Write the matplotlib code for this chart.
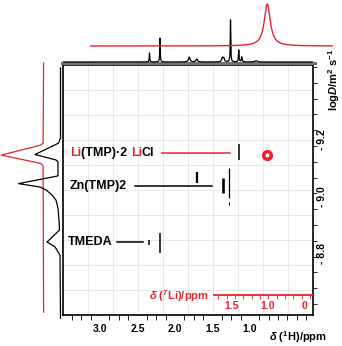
import numpy as np
import matplotlib
matplotlib.use("Agg")
import matplotlib.pyplot as plt
from matplotlib.ticker import FixedLocator

plt.rcParams['font.family'] = ['Liberation Sans', 'DejaVu Sans']
plt.rcParams['font.weight'] = 'bold'
plt.rcParams['mathtext.fontset'] = 'custom'
plt.rcParams['mathtext.rm'] = 'Liberation Sans:bold'
plt.rcParams['mathtext.it'] = 'Liberation Sans:italic:bold'
plt.rcParams['mathtext.bf'] = 'Liberation Sans:bold'

RED = '#e8232b'

# ---------------- data ----------------
# 1H projection (top): peak positions (ppm), heights, half widths
h1_ppm = [2.34, 2.20, 1.81, 1.71, 1.37, 1.35, 1.26, 1.15, 1.11, 0.92]
h1_height = [9, 24, 5, 3, 4, 4, 42, 12, 5, 1.2]
h1_hwhm = [0.004, 0.004, 0.012, 0.012, 0.010, 0.010, 0.004, 0.005, 0.006, 0.02]

# 7Li projection (top, red)
li_ppm = [1.01]
li_height = [42]
li_hwhm = [0.05]

# logD projections (left)
red_logd = [-9.470, -9.189, -9.182, -9.147, -9.118, -9.109, -8.596]
red_int = [0, 0.5, 3, 42.5, 3, 0.5, 0]
blk_logd = [-9.453, -9.207, -9.189, -9.149, -9.130, -9.123, -9.074, -9.047,
            -9.035, -9.025, -9.007, -8.989, -8.961, -8.919, -8.884, -8.842,
            -8.825, -8.796, -8.575]
blk_int = [0, 0, 2, 25.5, 4.5, 2.5, 2.5, 42, 20.5, 14.5, 8.5, 4.5, 2.5, 1.5,
           1, 13.5, 5.5, 0.5, 0]

# DOSY cross peaks (black): ppm, logD top, logD bottom, width
cp_ppm = [1.151, 1.711, 1.364, 1.276, 1.276, 2.343, 2.200]
cp_top = [-9.186, -9.088, -9.067, -9.102, -8.982, -8.849, -8.874]
cp_bot = [-9.130, -9.049, -9.014, -8.996, -8.972, -8.832, -8.804]
cp_lw = [1.1, 1.6, 1.9, 0.9, 0.7, 1.1, 1.1]

# 7Li cross peak (red)
li_cp_ppm = 1.018
li_cp_logd = -9.147

# compound labels
labels_y = [-9.154, -9.039, -8.842]

xticks_h = [3.0, 2.5, 2.0, 1.5, 1.0]
xticklabels_h = ['3.0', '2.5', '2.0', '1.5', '1.0']
yticks = [-9.2, -9.0, -8.8]
yticklabels = ['- 9.2', '- 9.0', '- 8.8']
li_ticks = [1.5, 1.0, 0.5]
li_ticklabels = ['1.5', '1.0', '0']

# ---------------- layout ----------------
W, H = 342, 346
fig = plt.figure(figsize=(W / 100, H / 100), dpi=100)


def rect(x0, y0, x1, y1):
    return [x0 / W, 1 - y1 / H, (x1 - x0) / W, (y1 - y0) / H]


def fx(x):
    return x / W


def fy(y):
    return 1 - y / H


def lorentz(x, c, h, w):
    return h * w ** 2 / ((x - c) ** 2 + w ** 2)


XL_H = (3.493, 0.16)
YL = (-8.586, -9.463)

# main axes
ax = fig.add_axes(rect(63, 65, 313, 315))
ax.set_xlim(*XL_H)
ax.set_ylim(*YL)
for s in ax.spines.values():
    s.set_linewidth(1.2)
    s.set_color('black')
for f in np.linspace(0, 1, 11)[1:-1]:
    ax.plot([f, f], [0, 1], transform=ax.transAxes, color='#e4e4e4', lw=0.6, zorder=0)
    ax.plot([0, 1], [f, f], transform=ax.transAxes, color='#e4e4e4', lw=0.6, zorder=0)

ax.yaxis.tick_right()
ax.set_yticks(yticks)
ax.set_yticklabels(yticklabels, rotation=90, va='center', fontsize=7.5, fontweight='bold')
ax.yaxis.set_minor_locator(FixedLocator(np.arange(-9.456, -8.59, 0.0554)))
ax.tick_params(axis='y', which='major', length=0, pad=3)
ax.tick_params(axis='y', which='minor', length=3, width=0.6, direction='out')

ax.set_xticks(xticks_h)
ax.set_xticklabels(xticklabels_h, fontsize=7.5, fontweight='bold')
ax.xaxis.set_minor_locator(FixedLocator(np.arange(3.5, 0.15, -0.125)))
ax.tick_params(axis='x', which='major', length=0, pad=6.5)
ax.tick_params(axis='x', which='minor', length=3.5, width=0.6, direction='out')

for p, t, b, lw in zip(cp_ppm, cp_top, cp_bot, cp_lw):
    ax.plot([p, p], [t, b], color='black', lw=lw, solid_capstyle='butt')

# label lines
ax.plot([2.173, 1.267], [labels_y[0]] * 2, color=RED, lw=1.1)
ax.plot([2.533, 1.507], [labels_y[1]] * 2, color='black', lw=1.1)
ax.plot([2.773, 2.427], [labels_y[2]] * 2, color='black', lw=1.1)

# compound labels (multi-coloured)
fs = 9
t1 = ax.text(3.40, labels_y[0], 'Li', color=RED, fontsize=fs, fontweight='bold', va='center')
t2 = ax.annotate('(TMP)·2 ', xy=(1, 0), xycoords=t1, va='bottom', fontsize=fs, fontweight='bold', color='black')
t3 = ax.annotate('Li', xy=(1, 0), xycoords=t2, va='bottom', fontsize=fs, fontweight='bold', color=RED)
t4 = ax.annotate('Cl', xy=(1, 0), xycoords=t3, va='bottom', fontsize=fs, fontweight='bold', color='black')
ax.text(3.40, labels_y[1], 'Zn(TMP)2', color='black', fontsize=fs, fontweight='bold', va='center')
ax.text(3.427, labels_y[2], 'TMEDA', color='black', fontsize=fs, fontweight='bold', va='center')

# 7Li overlay in main box
XL_LI_MAIN = (1.0 + (268 - 63) / 73, 1.0 - (313 - 268) / 73)
ax_li = fig.add_axes(rect(63, 65, 313, 315), frameon=False)
ax_li.set_xlim(*XL_LI_MAIN)
ax_li.set_ylim(*YL)
ax_li.axis('off')
ax_li.plot([li_cp_ppm], [li_cp_logd], 'o', ms=5.5, mfc='none', mec=RED, mew=2.6)

# red 7Li axis
ax_r = fig.add_axes(rect(214, 290, 312, 295))
ax_r.patch.set_visible(False)
for k in ('top', 'left', 'right'):
    ax_r.spines[k].set_visible(False)
ax_r.set_xlim(1.0 + (268 - 214) / 73, 1.0 - (312 - 268) / 73)
ax_r.set_ylim(0, 1)
ax_r.spines['bottom'].set_color(RED)
ax_r.spines['bottom'].set_linewidth(1.3)
ax_r.set_yticks([])
ax_r.set_xticks(li_ticks)
ax_r.set_xticklabels(li_ticklabels, color=RED, fontsize=7.5, fontweight='bold')
ax_r.xaxis.set_minor_locator(FixedLocator(np.arange(1.681, 0.40, -0.1142)))
ax_r.tick_params(axis='x', which='major', length=0, pad=4, colors=RED)
ax_r.tick_params(axis='x', which='minor', length=3, width=0.6, colors=RED)
fig.text(fx(179), fy(296), r'$\delta$ ($^{7}$Li)/ppm', color=RED, fontsize=8,
         fontweight='bold', ha='center', va='center')

# top 1H projection
ax_h = fig.add_axes(rect(63, 10, 313, 66), frameon=False)
ax_h.set_xlim(*XL_H)
ax_h.set_ylim(-4, 52)
ax_h.axis('off')
xs = np.linspace(XL_H[0], XL_H[1], 8000)
spec = np.zeros_like(xs)
for c, h, w in zip(h1_ppm, h1_height, h1_hwhm):
    spec += lorentz(xs, c, h, w)
ax_h.plot([-0.004, 1.008], [0.06, 0.06], transform=ax_h.transAxes, color='0.45', lw=2.2, clip_on=False)
ax_h.plot(xs, spec, color='black', lw=0.9)

# top 7Li projection
ax_t = fig.add_axes(rect(90, 0, 333, 50), frameon=False)
XL_LI = (1.0 + (268 - 90) / 73, 1.0 - (333 - 268) / 73)
ax_t.set_xlim(*XL_LI)
ax_t.set_ylim(-4, 46)
ax_t.axis('off')
xl = np.linspace(XL_LI[0], XL_LI[1], 4000)
sl = np.zeros_like(xl)
for c, h, w in zip(li_ppm, li_height, li_hwhm):
    sl += lorentz(xl, c, h, w)
ax_t.plot(xl, sl, color=RED, lw=1.0)

# left logD projections
ax_l = fig.add_axes(rect(0, 60, 62, 320), frameon=False)
ax_l.set_xlim(0, 62)
ax_l.set_ylim(-9.2 + (320 - 140) / 285, -9.2 + (60 - 140) / 285)
ax_l.axis('off')
ax_l.plot(43.6 - np.array(red_int), red_logd, color=RED, lw=0.9)
ax_l.plot(60.5 - np.array(blk_int), blk_logd, color='black', lw=0.9)

# axis titles
fig.text(fx(298), fy(337), r'$\delta$ ($^{1}$H)/ppm', fontsize=8, fontweight='bold',
         ha='center', va='center')
fig.text(fx(334.5), fy(80), r'log$D$/m$^{2}$ s$^{-1}$', fontsize=8, fontweight='bold',
         ha='center', va='center', rotation=90)

fig.savefig('out.png', dpi=100)
